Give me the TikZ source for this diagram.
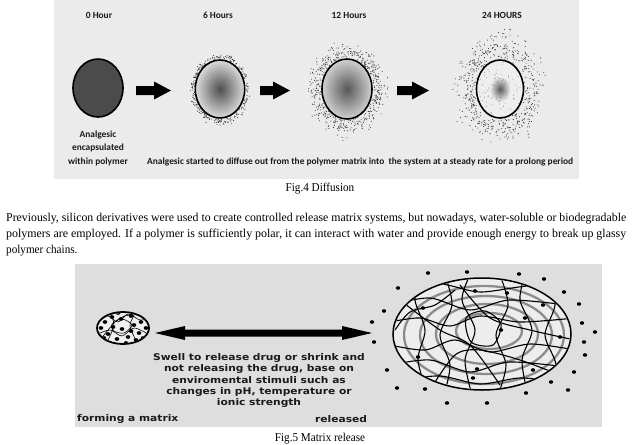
\documentclass[tikz,border=0pt]{standalone}
\usepackage{fontspec}
\usepackage{graphicx}
\setmainfont{Liberation Serif}
\newfontfamily\calibfont{Carlito}
\newfontfamily\dvfont{DejaVu Sans}
\definecolor{panelA}{HTML}{EBEBEB}
\definecolor{panelB}{HTML}{DEDEDE}
\definecolor{dotc}{HTML}{3A3A3A}
\definecolor{ringc}{HTML}{8C8C8C}
\definecolor{matrixfill}{HTML}{EDEDED}
\definecolor{darkfill}{HTML}{4B4B4B}
\definecolor{sixA}{HTML}{4E4E4E}
\definecolor{sixB}{HTML}{DCDCDC}
\definecolor{twA}{HTML}{585858}
\definecolor{twB}{HTML}{D0D0D0}
\definecolor{tfA}{HTML}{5A5A5A}
\definecolor{tfB}{HTML}{EEEEEE}
\definecolor{txtc}{HTML}{1A1A1A}
\pgfdeclareradialshading{sixsh}{\pgfpoint{0bp}{0bp}}{color(0bp)=(sixA); color(25bp)=(sixB); color(50bp)=(sixB)}
\pgfdeclareradialshading{twsh}{\pgfpoint{0bp}{0bp}}{color(0bp)=(twA); color(25bp)=(twB); color(50bp)=(twB)}
\pgfdeclareradialshading{tfsh}{\pgfpoint{0bp}{0bp}}{color(0bp)=(tfA); color(11bp)=(tfB); color(25bp)=(tfB); color(50bp)=(tfB)}
\newcommand\halo[8]{%
  \pgfmathsetseed{#8}%
  \foreach \i in {1,...,#7}{%
    \pgfmathsetmacro\ang{rnd*360}%
    \pgfmathsetmacro\ss{#5+#6*(0.35*rnd+0.65*rnd*rnd)}%
    \fill[dotc] ({#1+#3*\ss*cos(\ang)},{#2+#4*\ss*sin(\ang)}) circle (0.55pt);
  }}
\newcommand\barrow[2]{%
  \fill[black] (#1,86) -- ({#2-17},86) -- ({#2-17},81.5) -- (#2,90.5) -- ({#2-17},99.5) -- ({#2-17},95) -- (#1,95) -- cycle;}
\newcommand\condensed[1]{\scalebox{0.93}[1]{#1}}
\begin{document}
\begin{tikzpicture}[x=1pt,y=-1pt,
  toptxt/.style={font=\calibfont\bfseries\fontsize{9.4}{13.5}\selectfont, text=txtc, inner sep=0pt},
  bottxt/.style={font=\dvfont\bfseries\fontsize{9.2}{11.3}\selectfont, text=txtc, inner sep=0pt},
  para/.style={font=\fontsize{12}{14}\selectfont, inner sep=0pt},
  net/.style={black, line width=1.1pt, line cap=round},
  ring/.style={ringc, line width=2.3pt},
  mdot/.style={fill=black}]
\useasboundingbox (0,0) rectangle (641,445);
\fill[white] (0,0) rectangle (641,445);

% ---------------- top panel ----------------
\fill[panelA] (54,0) rectangle (579,179);

\node[toptxt] (h0) at (99,15) {0 Hour};
\node[toptxt] (h6) at (218,15) {6 Hours};
\node[toptxt] (h12) at (349,15) {12 Hours};
\node[toptxt] (h24) at (502,15) {24 HOURS};

% 0 hour
\draw[line width=1.6pt, fill=darkfill] (98,88) ellipse [x radius=25pt, y radius=29pt];

% 6 hours
\halo{220}{89}{24.7}{29}{1.0}{0.32}{260}{7}
\shade[shading=sixsh] (220,89) ellipse [x radius=24.7pt, y radius=29pt];
\draw[line width=1.6pt] (220,89) ellipse [x radius=24.7pt, y radius=29pt];

% 12 hours
\halo{347}{89}{25}{30}{1.0}{0.8}{480}{13}
\shade[shading=twsh] (347,89) ellipse [x radius=25pt, y radius=30pt];
\draw[line width=1.6pt] (347,89) ellipse [x radius=25pt, y radius=30pt];

% 24 hours
\halo{500}{89}{23.5}{29}{1.0}{1.25}{520}{29}
\shade[shading=tfsh] (500,89) ellipse [x radius=23.5pt, y radius=29pt];
\pgfmathsetseed{5}
\foreach \i in {1,...,70}{%
  \pgfmathsetmacro\ang{rnd*360}%
  \pgfmathsetmacro\ss{0.25+0.7*rnd}%
  \fill[dotc!70] ({500+23.5*\ss*cos(\ang)},{89+29*\ss*sin(\ang)}) circle (0.45pt);
}
\draw[line width=1.6pt] (500,89) ellipse [x radius=23.5pt, y radius=29pt];

% block arrows
\barrow{136}{171}
\barrow{260}{290}
\barrow{397}{429}

\node[toptxt, align=center] (cap0) at (98,148) {Analgesic\\encapsulated\\within polymer};
\node[toptxt, anchor=west] (diff) at (147,162) {Analgesic started to diffuse out from the polymer matrix into \ the system at a steady rate for a prolong period};

% ---------------- captions and paragraph ----------------
\node[para, anchor=base] (fig4) at (320,191) {\condensed{Fig.4 Diffusion}};
\node[para, anchor=base west] (p1) at (6,221) {\resizebox{620pt}{\height}{Previously, silicon derivatives were used to create controlled release matrix systems, but nowadays, water-soluble or biodegradable}};
\node[para, anchor=base west] (p2) at (6,237) {\resizebox{620pt}{\height}{polymers are employed. If a polymer is sufficiently polar, it can interact with water and provide enough energy to break up glassy}};
\node[para, anchor=base west] (p3) at (6,253) {\condensed{polymer chains.}};

% ---------------- bottom panel ----------------
\fill[panelB] (75,264) rectangle (602,427);

% small matrix
\draw[line width=1.8pt, fill=white!94!black] (123,328) ellipse [x radius=26pt, y radius=16pt];
\begin{scope}
\clip (123,328) ellipse [x radius=25pt, y radius=15pt];
\draw[black, line width=0.6pt] plot[smooth] coordinates {(98,322) (108,316) (118,322) (128,314) (140,320) (150,318)};
\draw[black, line width=0.6pt] plot[smooth] coordinates {(98,334) (110,330) (122,336) (134,328) (148,334)};
\draw[black, line width=0.6pt] plot[smooth cycle] coordinates {(112,324) (122,319) (132,325) (124,333) (114,331)};
\draw[black, line width=0.6pt] plot[smooth] coordinates {(110,312) (114,325) (108,340)};
\draw[black, line width=0.6pt] plot[smooth] coordinates {(136,312) (130,326) (138,344)};
\draw[black, line width=0.6pt] plot[smooth] coordinates {(100,340) (115,322) (125,316) (146,312)};
\foreach \p in {(105,322),(112,317),(121,319),(131,316),(141,322),(108,334),(117,339),(128,337),(139,333),(146,328),(101,328),(134,325),(122,329),(113,327),(126,343),(143,338),(118,313),(131,331),(136,340),(104,338)}
  \fill[black] \p ellipse [x radius=2.3pt, y radius=1.9pt];
\end{scope}

% double arrow
\fill[black] (155,333) -- (185,326) -- (185,329.5) -- (342,329.5) -- (342,326) -- (372,333) -- (342,340) -- (342,336.5) -- (185,336.5) -- (185,340) -- cycle;

\node[bottxt] (swell) at (259,381) {\scalebox{1.16}[1]{\begin{tabular}{@{}c@{}}Swell to release drug or shrink and\\not releasing the drug, base on\\enviromental stimuli such as\\changes in pH, temperature or\\ionic strength\end{tabular}}};
\node[bottxt, anchor=west] (form) at (77,419) {\scalebox{1.16}[1]{forming a matrix}};
\node[bottxt, anchor=west] (rel) at (315,419) {\scalebox{1.16}[1]{released}};

% big matrix
\fill[matrixfill] (482,334) ellipse [x radius=89pt, y radius=56pt];
\begin{scope}
\clip (482,334) ellipse [x radius=88pt, y radius=55pt];
\draw[ring] (484,335) ellipse [x radius=80pt, y radius=49pt];
\draw[ring] (486,335) ellipse [x radius=66pt, y radius=39pt];
\draw[ring] (487,334) ellipse [x radius=51pt, y radius=30pt];
\draw[ring] (489,331) ellipse [x radius=33pt, y radius=18pt];
\draw[net] plot[smooth] coordinates {(390,305) (430,298) (470,310) (510,300) (575,306)};
\draw[net] plot[smooth] coordinates {(390,322) (420,318) (450,326) (480,316) (520,322) (575,318)};
\draw[net] plot[smooth] coordinates {(390,345) (425,350) (455,340) (490,352) (530,344) (575,350)};
\draw[net] plot[smooth] coordinates {(390,365) (430,360) (470,372) (510,362) (575,368)};
\draw[net] plot[smooth] coordinates {(400,290) (440,284) (480,292) (530,286) (565,292)};
\draw[net] plot[smooth] coordinates {(400,380) (440,376) (480,384) (520,378) (560,382)};
\draw[net] plot[smooth] coordinates {(420,275) (415,300) (425,330) (418,360) (428,395)};
\draw[net] plot[smooth] coordinates {(445,275) (452,305) (440,335) (450,365) (444,395)};
\draw[net] plot[smooth] coordinates {(470,275) (462,300) (475,330) (465,360) (472,395)};
\draw[net] plot[smooth] coordinates {(500,275) (508,305) (496,335) (506,365) (498,395)};
\draw[net] plot[smooth] coordinates {(525,275) (520,300) (532,330) (522,360) (528,395)};
\draw[net] plot[smooth] coordinates {(550,275) (555,305) (545,335) (556,365) (550,395)};
\draw[net] plot[smooth] coordinates {(400,300) (440,330) (470,345) (500,385)};
\draw[net] plot[smooth] coordinates {(460,285) (490,318) (530,330) (575,340)};
\draw[net] plot[smooth cycle] coordinates {(466,318) (485,311) (501,324) (493,345) (471,342)};
\draw[net] plot[smooth] coordinates {(395,330) (410,312) (435,305) (455,290)};
\draw[net] plot[smooth] coordinates {(430,390) (455,355) (480,350) (520,360) (560,375)};
\foreach \p in {(475,291),(507,293),(423,308),(543,305),(525,318),(501,330),(560,337),(418,357),(477,369),(473,378),(533,370)}
  \fill[mdot] \p ellipse [x radius=2.2pt, y radius=1.8pt];
\end{scope}
\draw[line width=1.5pt] (482,334) ellipse [x radius=89pt, y radius=56pt];

\foreach \p in {(428,273),(467,272),(519,274),(544,279),(564,292),(579,304),(582,323),(595,332),(584,342),(585,355),(574,372),(568,390),(551,382),(526,393),(487,403),(447,403),(425,389),(397,388),(387,370),(374,342),(372,322),(384,311),(398,288)}
  \fill[mdot] \p ellipse [x radius=2.2pt, y radius=1.8pt];

\node[para, anchor=base] (fig5) at (320,441) {\condensed{Fig.5 Matrix release}};
\end{tikzpicture}
\end{document}
